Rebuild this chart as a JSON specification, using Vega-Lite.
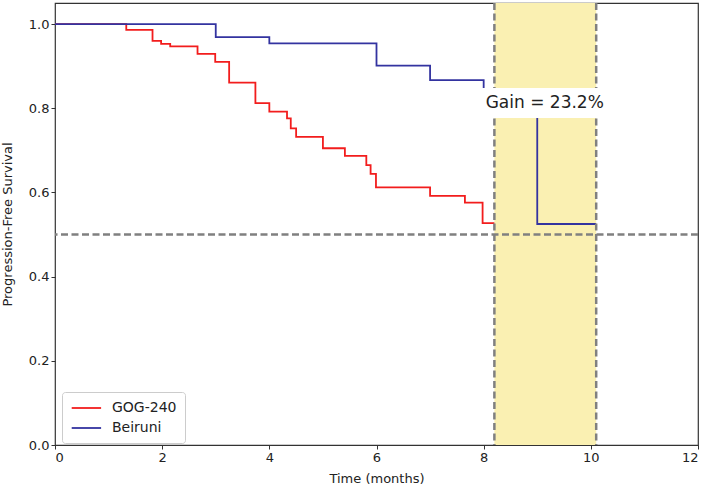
{
  "$schema": "https://vega.github.io/schema/vega-lite/v6.json",
  "width": 643,
  "height": 442,
  "autosize": {"type": "none"},
  "padding": {"left": 55, "top": 3, "right": 11, "bottom": 44},
  "background": "white",
  "config": {
    "font": "DejaVu Sans",
    "view": {"stroke": "#333333", "strokeWidth": 1.2},
    "axis": {
      "domain": false,
      "grid": false,
      "tickColor": "#333333",
      "tickSize": 4,
      "labelColor": "#222222",
      "labelFontSize": 13,
      "labelFont": "DejaVu Sans",
      "titleFont": "DejaVu Sans",
      "titleFontSize": 13,
      "titleFontWeight": "normal",
      "titleColor": "#222222",
      "labelPadding": 2
    }
  },
  "datasets": {
    "curves": [
      {"time": 0, "pfs": 1.0, "arm": "GOG-240"},
      {"time": 1.33, "pfs": 0.986, "arm": "GOG-240"},
      {"time": 1.82, "pfs": 0.96, "arm": "GOG-240"},
      {"time": 1.98, "pfs": 0.953, "arm": "GOG-240"},
      {"time": 2.15, "pfs": 0.947, "arm": "GOG-240"},
      {"time": 2.66, "pfs": 0.929, "arm": "GOG-240"},
      {"time": 2.99, "pfs": 0.91, "arm": "GOG-240"},
      {"time": 3.25, "pfs": 0.861, "arm": "GOG-240"},
      {"time": 3.74, "pfs": 0.812, "arm": "GOG-240"},
      {"time": 4.0, "pfs": 0.792, "arm": "GOG-240"},
      {"time": 4.33, "pfs": 0.776, "arm": "GOG-240"},
      {"time": 4.4, "pfs": 0.752, "arm": "GOG-240"},
      {"time": 4.5, "pfs": 0.732, "arm": "GOG-240"},
      {"time": 5.0, "pfs": 0.705, "arm": "GOG-240"},
      {"time": 5.41, "pfs": 0.687, "arm": "GOG-240"},
      {"time": 5.81, "pfs": 0.665, "arm": "GOG-240"},
      {"time": 5.89, "pfs": 0.644, "arm": "GOG-240"},
      {"time": 5.99, "pfs": 0.612, "arm": "GOG-240"},
      {"time": 7.0, "pfs": 0.592, "arm": "GOG-240"},
      {"time": 7.65, "pfs": 0.576, "arm": "GOG-240"},
      {"time": 7.98, "pfs": 0.527, "arm": "GOG-240"},
      {"time": 8.2, "pfs": 0.527, "arm": "GOG-240"},
      {"time": 0, "pfs": 1.0, "arm": "Beiruni"},
      {"time": 3.0, "pfs": 0.969, "arm": "Beiruni"},
      {"time": 4.0, "pfs": 0.954, "arm": "Beiruni"},
      {"time": 6.0, "pfs": 0.901, "arm": "Beiruni"},
      {"time": 7.0, "pfs": 0.867, "arm": "Beiruni"},
      {"time": 8.0, "pfs": 0.81, "arm": "Beiruni"},
      {"time": 9.0, "pfs": 0.525, "arm": "Beiruni"},
      {"time": 10.1, "pfs": 0.525, "arm": "Beiruni"}
    ],
    "band": [{"x1": 8.2, "x2": 10.1, "y1": 0, "y2": 1.05}],
    "vlines": [{"x": 8.2}, {"x": 10.1}],
    "hline": [{"y": 0.5}],
    "labelbox": [{"x1": 7.96, "x2": 10.28, "y1": 0.777, "y2": 0.848, "xc": 9.14, "yc": 0.812, "text": "Gain = 23.2%"}]
  },
  "layer": [
    {
      "data": {"name": "band"},
      "mark": {"type": "rect", "color": "#faf0b2"},
      "encoding": {
        "x": {"field": "x1", "type": "quantitative", "scale": {"domain": [0, 12], "nice": false, "zero": false}, "axis": {"values": [0, 2, 4, 6, 8, 10, 12], "format": "d", "title": "Time (months)", "titlePadding": 8}},
        "x2": {"field": "x2"},
        "y": {"field": "y1", "type": "quantitative", "scale": {"domain": [0, 1.05], "nice": false}, "axis": {"values": [0, 0.2, 0.4, 0.6, 0.8, 1.0], "format": ".1f", "title": "Progression-Free Survival", "titlePadding": 14}},
        "y2": {"field": "y2"}
      }
    },
    {
      "data": {"name": "curves"},
      "mark": {"type": "line", "interpolate": "step-after", "strokeWidth": 1.8},
      "encoding": {
        "x": {"field": "time", "type": "quantitative"},
        "y": {"field": "pfs", "type": "quantitative"},
        "color": {
          "field": "arm",
          "type": "nominal",
          "scale": {"domain": ["GOG-240", "Beiruni"], "range": ["#f21d1d", "#3333a0"]},
          "legend": {
            "title": null,
            "orient": "none",
            "legendX": 7,
            "legendY": 389,
            "symbolType": "M-0.9,0H3.3",
            "symbolSize": 196,
            "symbolStrokeWidth": 1.8,
            "labelFontSize": 14,
            "labelOffset": 26,
            "labelColor": "#222222",
            "labelFont": "DejaVu Sans",
            "rowPadding": 5,
            "padding": 8,
            "strokeColor": "#cccccc",
            "fillColor": "white",
            "cornerRadius": 3
          }
        }
      }
    },
    {
      "data": {"name": "hline"},
      "mark": {"type": "rule", "color": "#808080", "strokeWidth": 2.5, "strokeDash": [7, 3.5]},
      "encoding": {"y": {"field": "y", "type": "quantitative"}}
    },
    {
      "data": {"name": "vlines"},
      "mark": {"type": "rule", "color": "#808080", "strokeWidth": 2.5, "strokeDash": [7, 3.5]},
      "encoding": {"x": {"field": "x", "type": "quantitative"}}
    },
    {
      "data": {"name": "labelbox"},
      "mark": {"type": "rect", "color": "white"},
      "encoding": {
        "x": {"field": "x1", "type": "quantitative"},
        "x2": {"field": "x2"},
        "y": {"field": "y1", "type": "quantitative"},
        "y2": {"field": "y2"}
      }
    },
    {
      "data": {"name": "labelbox"},
      "mark": {"type": "text", "fontSize": 17, "font": "DejaVu Sans", "color": "#222222", "align": "center", "baseline": "middle"},
      "encoding": {
        "x": {"field": "xc", "type": "quantitative"},
        "y": {"field": "yc", "type": "quantitative"},
        "text": {"field": "text"}
      }
    }
  ]
}
